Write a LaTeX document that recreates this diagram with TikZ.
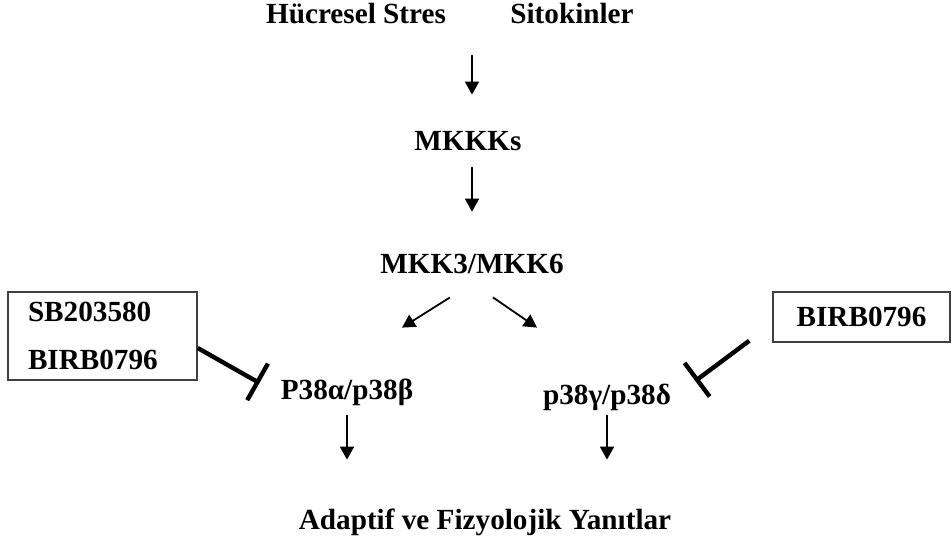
\documentclass[tikz,border=0pt]{standalone}
\usepackage{fontspec}
\setmainfont{Liberation Serif}
\usetikzlibrary{arrows.meta}
\begin{document}
\begin{tikzpicture}[x=0.5pt, y=-0.5pt,
    lbl/.style={font=\fontsize{14.6}{17}\selectfont\bfseries,
                text height=10pt, text depth=3pt, inner sep=1pt},
    boxed/.style={draw=black!75, line width=0.7pt, inner xsep=10pt,
                  font=\fontsize{14.6}{17}\selectfont\bfseries},
    arr/.style={-{Triangle[length=6.5pt,width=7pt]}, line width=0.9pt},
    inh/.style={-{Bar[width=21pt]}, line width=2.2pt}]
  \useasboundingbox (0,0) rectangle (952,538);
  \node[lbl] (stres)   at (356,16)  {Hücresel Stres};
  \node[lbl] (sitokin) at (572,16)  {Sitokinler};
  \node[lbl] (mkkk)    at (468,143) {MKKKs};
  \node[lbl] (mkk)     at (472,266) {MKK3/MKK6};
  \node[lbl] (pab)     at (347,392) {P38α/p38β};
  \node[lbl] (pgd)     at (607,397) {p38γ/p38δ};
  \node[lbl] (yanit)   at (485,522) {Adaptif ve Fizyolojik Yanıtlar};
  \node[boxed, align=left, text width=74.5pt, minimum height=44pt]
       (boxL) at (102.5,336) {SB203580\\[7pt]BIRB0796};
  \node[boxed, minimum width=88.5pt, minimum height=25pt]
       (boxR) at (861.5,317) {BIRB0796};
  % activation steps
  \draw[arr, shorten <=12pt, shorten >=16.5pt] (mkk |- stres.south) -- (mkk |- mkkk.north);
  \draw[arr, shorten <=4.5pt, shorten >=19.5pt] (mkk |- mkkk.south) -- (mkk.north);
  \draw[arr] ([xshift=-11pt,yshift=-8pt]mkk.south) -- ([xshift=27.5pt,yshift=24.5pt]pab.north);
  \draw[arr] ([xshift=10.5pt,yshift=-8pt]mkk.south) -- ([xshift=-35pt,yshift=27pt]pgd.north);
  \draw[arr, shorten <=4pt, shorten >=23.5pt] (pab.south) -- (pab.south |- yanit.north);
  \draw[arr, shorten <=1.5pt, shorten >=23.5pt] (pgd.south) -- (pgd.south |- yanit.north);
  % inhibitors
  \draw[inh] ([yshift=-6pt]boxL.east) -- ([xshift=-9.5pt,yshift=4.5pt]pab.west);
  \draw[inh] ([xshift=-11.5pt,yshift=1pt]boxR.south west) -- ([xshift=11pt,yshift=8pt]pgd.east);
\end{tikzpicture}
\end{document}
